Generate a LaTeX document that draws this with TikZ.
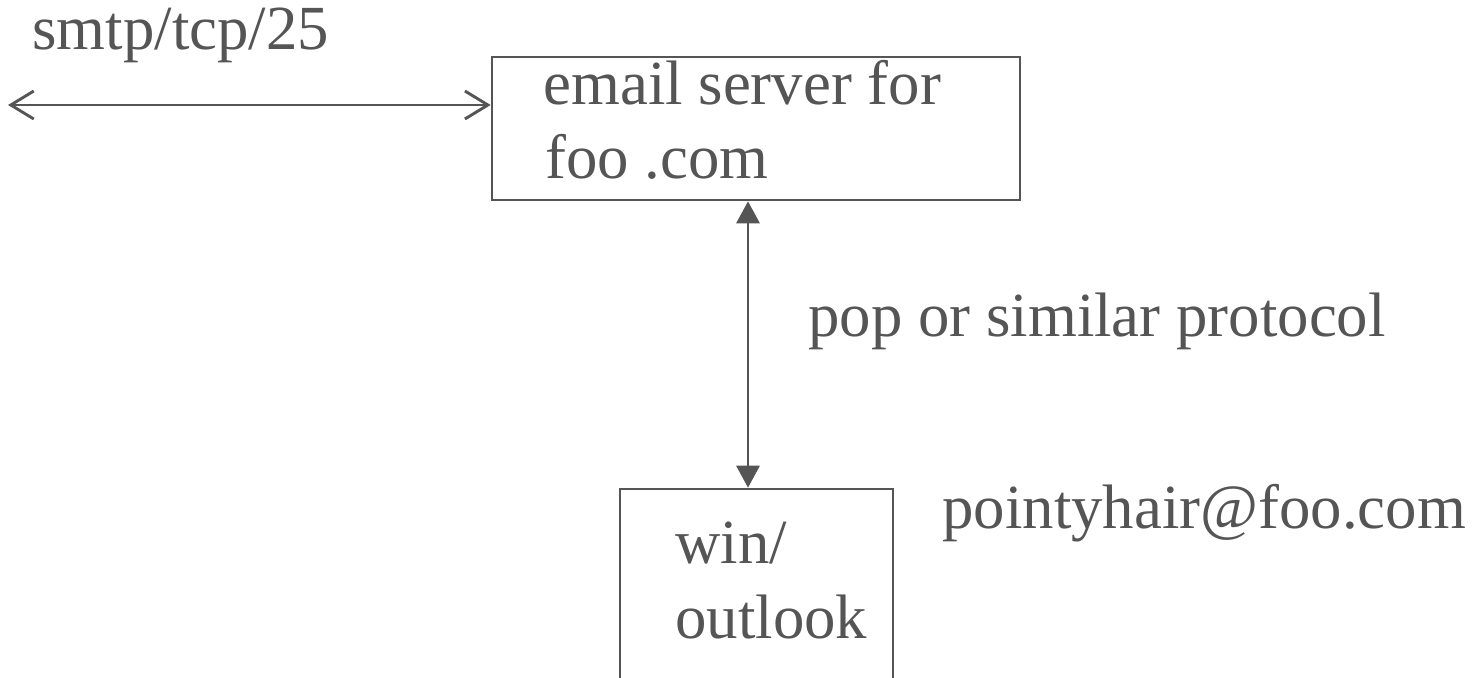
\documentclass[tikz,border=0pt]{standalone}
\usepackage{fontspec}
\setmainfont{Liberation Serif}
\usetikzlibrary{arrows.meta}
\definecolor{ink}{HTML}{555555}
\tikzset{
  box/.style={draw=ink, line width=1.3pt, inner sep=0pt, fill=none},
  lbl/.style={text=ink, anchor=base west, inner sep=0pt, font=\fontsize{31.4}{37.5}\selectfont},
  link/.style={draw=ink, line width=1.45pt},
  openhead/.style={link, {Straight Barb[length=11.5pt,width=14pt]}-{Straight Barb[length=11.5pt,width=14pt]}},
  solidhead/.style={link, {Triangle[length=11pt,width=11.5pt]}-{Triangle[length=11pt,width=11.5pt]}}
}
\begin{document}
\begin{tikzpicture}[x=0.5pt,y=-0.5pt]
  \useasboundingbox (0,0) rectangle (1481,678);

  % mail server and desktop client
  \node[box, minimum width=264pt, minimum height=71.5pt] (server) at (756,128.5) {};
  \node[box, minimum width=136.5pt, minimum height=110pt] (client) at (756.5,599) {};

  % labels
  \node[lbl] (smtp) at (32,50) {smtp/tcp/25};
  \node[lbl] (srv1) at (543,105) {email server for};
  \node[lbl] (srv2) at (545,179) {foo .com};
  \node[lbl] (pop) at (808,336) {pop or similar protocol};
  \node[lbl] (addr) at (942,528) {pointyhair@foo.com};
  \node[lbl] (cli1) at (675,563) {win/};
  \node[lbl] (cli2) at (675,638) {outlook};

  % connectors
  \coordinate (outside) at (8,105);
  \coordinate (popx) at (748,0);
  \draw[openhead] (outside) -- (outside -| server.west);
  \draw[solidhead] (server.south -| popx) -- (client.north -| popx);
\end{tikzpicture}
\end{document}
